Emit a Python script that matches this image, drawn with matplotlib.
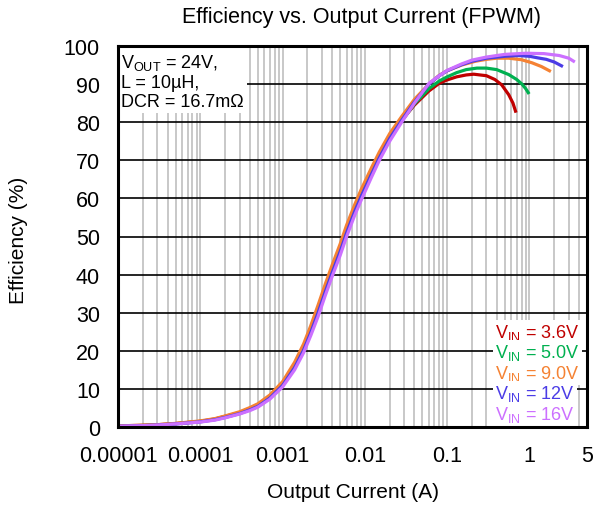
import matplotlib
matplotlib.use("Agg")
import matplotlib.pyplot as plt
from matplotlib.ticker import FixedLocator, LogLocator, NullFormatter

plt.rcParams['font.family'] = ['Liberation Sans', 'DejaVu Sans']
plt.rcParams['mathtext.fontset'] = 'custom'
plt.rcParams['mathtext.rm'] = 'Liberation Sans'
plt.rcParams['mathtext.it'] = 'Liberation Sans'

# efficiency (%) vs output current (A)
x_36 = [1e-5, 2e-5, 3e-5, 5e-5, 1e-4, 1.5e-4, 2e-4, 3e-4, 4e-4, 5e-4, 7e-4, 1e-3, 1.4e-3, 1.8e-3,
        2.2e-3, 2.7e-3, 3.3e-3, 4e-3, 5e-3, 6e-3, 7.5e-3, 9e-3, 0.012, 0.015, 0.02, 0.028, 0.04,
        0.06, 0.08, 0.1, 0.13, 0.17, 0.21, 0.3, 0.38, 0.46, 0.56, 0.63, 0.686]
y_36 = [0.3, 0.45, 0.6, 0.9, 1.5, 2.1, 2.8, 3.8, 4.9, 5.8, 8.1, 11.5, 16.4, 21.1,
        25.8, 31, 36.5, 41.5, 47, 52, 57.5, 61.5, 67, 71.2, 76, 80.5, 84.5,
        88.2, 90.2, 91.1, 91.9, 92.4, 92.6, 92.2, 91.2, 89.8, 87.2, 85, 82.5]

x_50 = [1e-5, 2e-5, 3e-5, 5e-5, 1e-4, 1.5e-4, 2e-4, 3e-4, 4e-4, 5e-4, 7e-4, 1e-3, 1.4e-3, 1.8e-3,
        2.2e-3, 2.7e-3, 3.3e-3, 4e-3, 5e-3, 6e-3, 7.5e-3, 9e-3, 0.012, 0.015, 0.02, 0.028, 0.04,
        0.06, 0.08, 0.1, 0.13, 0.17, 0.23, 0.3, 0.4, 0.56, 0.7, 0.81, 0.9, 0.99]
y_50 = [0.25, 0.4, 0.55, 0.85, 1.45, 2.0, 2.7, 3.7, 4.7, 5.6, 7.8, 11.2, 16, 20.6,
        25.3, 30.5, 36, 41, 46.5, 51.5, 57, 61, 66.6, 70.8, 75.8, 80.3, 84.8,
        88.8, 90.8, 91.9, 93.0, 93.8, 94.2, 94.2, 93.8, 92.5, 91.2, 90, 88.8, 87.4]

x_90 = [1e-5, 2e-5, 3e-5, 5e-5, 1e-4, 1.5e-4, 2e-4, 3e-4, 4e-4, 5e-4, 7e-4, 1e-3, 1.4e-3, 1.8e-3,
        2.2e-3, 2.7e-3, 3.3e-3, 4e-3, 5e-3, 6e-3, 7.5e-3, 9e-3, 0.012, 0.015, 0.02, 0.028, 0.04,
        0.06, 0.08, 0.1, 0.15, 0.22, 0.3, 0.4, 0.56, 0.8, 1.07, 1.4, 1.82]
y_90 = [0.3, 0.45, 0.6, 0.95, 1.6, 2.2, 2.9, 4.0, 5.1, 6.1, 8.4, 11.9, 17, 21.8,
        26.6, 32, 37.5, 42.5, 48, 53, 58.3, 62.3, 68, 72.2, 77, 81.5, 86,
        90, 92.3, 93.5, 95.0, 96.0, 96.5, 96.8, 96.8, 96.4, 95.6, 94.6, 93.3]

x_12 = [1e-5, 2e-5, 3e-5, 5e-5, 1e-4, 1.5e-4, 2e-4, 3e-4, 4e-4, 5e-4, 7e-4, 1e-3, 1.4e-3, 1.8e-3,
        2.2e-3, 2.7e-3, 3.3e-3, 4e-3, 5e-3, 6e-3, 7.5e-3, 9e-3, 0.012, 0.015, 0.02, 0.028, 0.04,
        0.06, 0.08, 0.1, 0.15, 0.2, 0.3, 0.5, 0.73, 1.0, 1.25, 1.6, 2.0, 2.55]
y_12 = [0.2, 0.35, 0.5, 0.8, 1.35, 1.9, 2.5, 3.5, 4.5, 5.4, 7.6, 10.9, 15.6, 20.2,
        24.8, 30, 35.5, 40.5, 46, 51, 56.5, 60.5, 66.3, 70.7, 75.7, 80.5, 85.3,
        90, 92.2, 93.5, 95.1, 96.0, 96.8, 97.3, 97.5, 97.3, 96.9, 96.5, 95.8, 94.6]

x_16 = [1e-5, 2e-5, 3e-5, 5e-5, 1e-4, 1.5e-4, 2e-4, 3e-4, 4e-4, 5e-4, 7e-4, 1e-3, 1.4e-3, 1.8e-3,
        2.2e-3, 2.7e-3, 3.3e-3, 4e-3, 5e-3, 6e-3, 7.5e-3, 9e-3, 0.012, 0.015, 0.02, 0.028, 0.04,
        0.06, 0.08, 0.1, 0.15, 0.2, 0.3, 0.5, 0.9, 1.5, 2.3, 3.0, 3.56]
y_16 = [0.2, 0.35, 0.5, 0.8, 1.3, 1.8, 2.4, 3.4, 4.3, 5.2, 7.3, 10.5, 15, 19.5,
        24, 29, 34.5, 39.5, 45, 50, 55.5, 59.5, 65.5, 70, 75, 80, 85,
        90.2, 92.2, 93.6, 95.3, 96.3, 97.1, 97.8, 98.1, 98.0, 97.5, 96.8, 95.8]

labels = [r'V$_{\mathrm{IN}}$ = 3.6V', r'V$_{\mathrm{IN}}$ = 5.0V', r'V$_{\mathrm{IN}}$ = 9.0V',
          r'V$_{\mathrm{IN}}$ = 12V', r'V$_{\mathrm{IN}}$ = 16V']
colors = ['#C00000', '#00B050', '#F58233', '#4B3CE6', '#CC70FF']
series = [(x_36, y_36), (x_50, y_50), (x_90, y_90), (x_12, y_12), (x_16, y_16)]

x_ticks = [1e-5, 1e-4, 1e-3, 1e-2, 0.1, 1, 5]
x_tick_labels = ['0.00001', '0.0001', '0.001', '0.01', '0.1', '1', '5']
y_ticks = list(range(0, 101, 10))

fig = plt.figure(figsize=(5.93, 5.10), dpi=100)
ax = fig.add_axes([118 / 593, 82 / 510, 469 / 593, 381 / 510])

for (xs, ys), c in zip(series, colors):
    ax.plot(xs, ys, color=c, lw=2.3, solid_capstyle='butt', zorder=3)

ax.set_xscale('log')
ax.set_xlim(1e-5, 5)
ax.set_ylim(0, 100)

ax.xaxis.set_major_locator(FixedLocator(x_ticks))
ax.set_xticklabels(x_tick_labels)
ax.xaxis.set_minor_locator(LogLocator(base=10, subs=range(2, 10), numticks=20))
ax.xaxis.set_minor_formatter(NullFormatter())
ax.set_yticks(y_ticks)
ax.tick_params(axis='both', which='both', length=0, labelsize=15.5)
ax.tick_params(axis='x', pad=13)
ax.tick_params(axis='y', pad=13)

ax.grid(True, axis='x', which='both', color='#BFBFBF', lw=1.2, zorder=1)
ax.grid(True, axis='y', which='major', color='black', lw=1.2, zorder=1)
ax.set_axisbelow(True)
for s in ax.spines.values():
    s.set_linewidth(2.2)
    s.set_zorder(8)

fig.text(362 / 593, 1 - 18 / 510, 'Efficiency vs. Output Current (FPWM)', ha='center', va='center', fontsize=15.5)
fig.text(353 / 593, 1 - 493 / 510, 'Output Current (A)', ha='center', va='center', fontsize=15)
fig.text(19 / 593, 1 - 240 / 510, 'Efficiency (%)', ha='center', va='center', rotation=90, fontsize=15)

ax.text(0.006, 0.985, 'V$_{\\mathrm{OUT}}$ = 24V,\nL = 10µH,\nDCR = 16.7mΩ', transform=ax.transAxes,
        ha='left', va='top', fontsize=13, linespacing=1.15, zorder=4,
        bbox=dict(facecolor='white', edgecolor='none', pad=2.5))

# legend as coloured text on white
leg_y = [333, 353.5, 374, 394.5, 415]
for lab, c, yp in zip(labels, colors, leg_y):
    ax.text((495 - 118) / 469, (428 - yp) / 381, lab, transform=ax.transAxes, color=c,
            ha='left', va='center', fontsize=13, zorder=5,
            bbox=dict(facecolor='white', edgecolor='none', pad=1.5))

fig.savefig('out.png', dpi=100)
